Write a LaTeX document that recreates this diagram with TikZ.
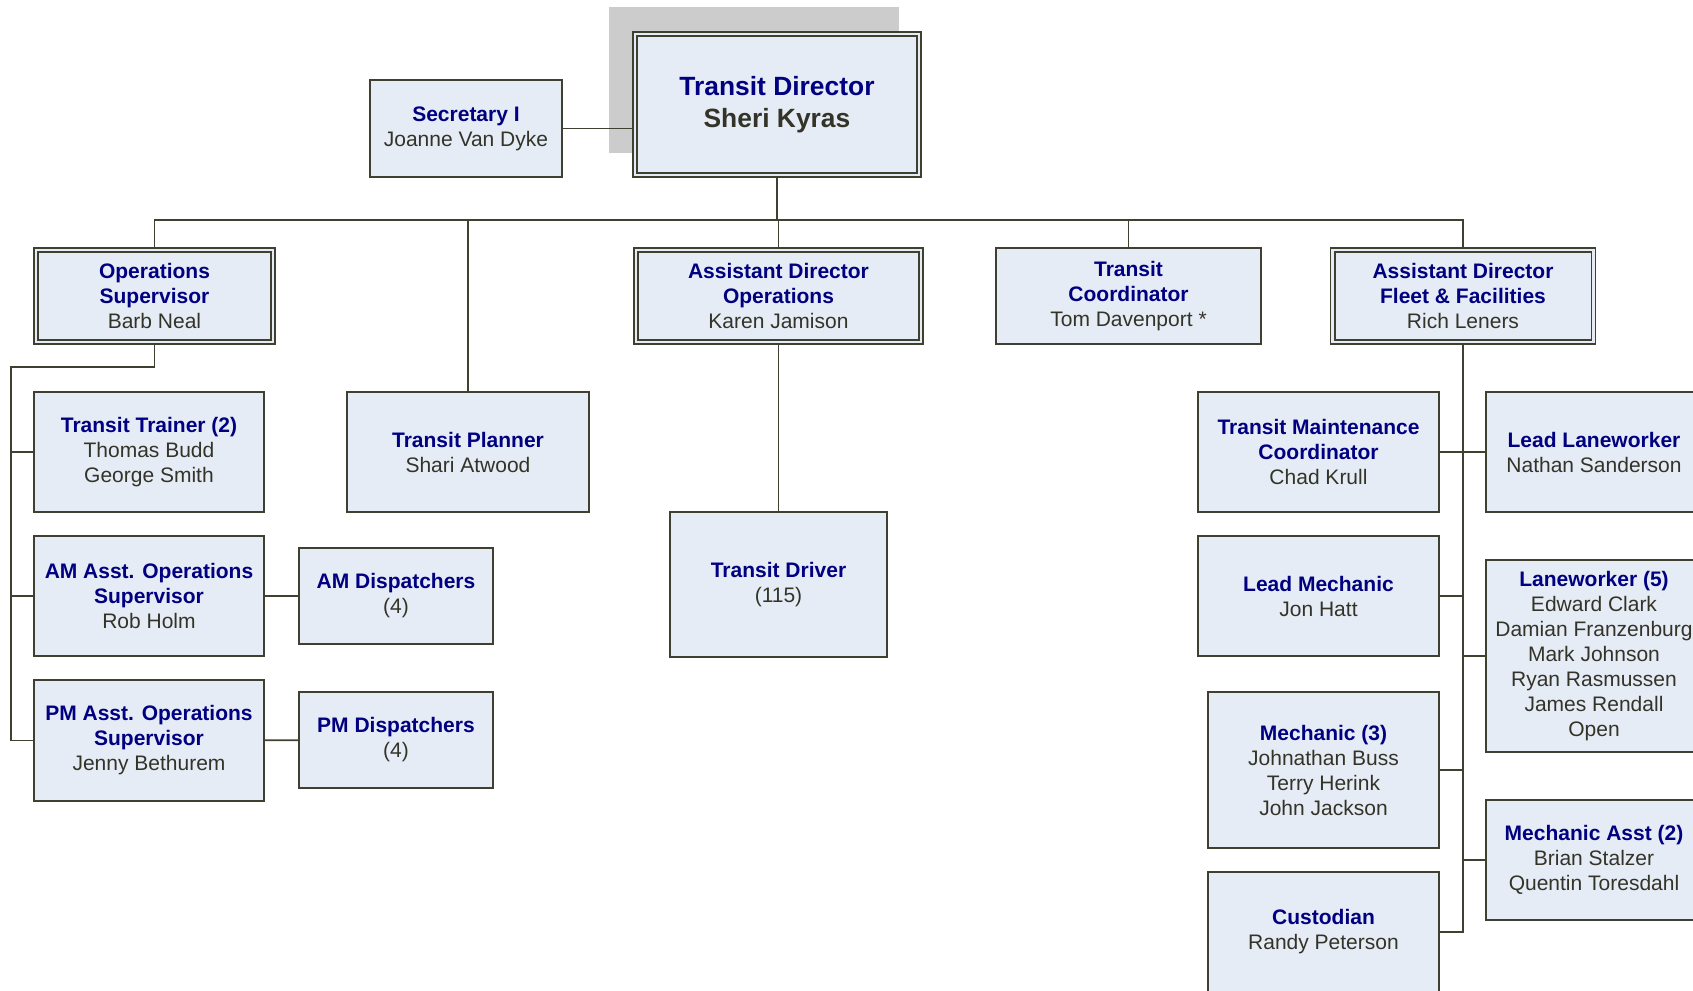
\documentclass[tikz,border=0pt]{standalone}
\usepackage{fontspec}
\setmainfont{Liberation Sans}
\definecolor{boxfill}{RGB}{230,236,246}
\definecolor{edge}{RGB}{64,64,48}
\definecolor{titleblue}{RGB}{0,0,128}
\definecolor{namecol}{RGB}{51,51,40}
\definecolor{shadowgray}{RGB}{204,204,204}
\newcommand{\ttl}[1]{{\color{titleblue}\bfseries #1}}

\begin{document}
\begin{tikzpicture}[x=0.75pt, y=-0.75pt,
    unit/.style={draw=edge, fill=boxfill, line width=1.4pt, align=center, inner sep=0pt,
      text=namecol, font=\fontsize{15.75}{18.75}\selectfont},
    sz/.style 2 args={minimum width=#1*0.75pt, minimum height=#2*0.75pt},
    wire/.style={draw=edge, line width=1.4pt}]

      \useasboundingbox (0,0) rectangle (1693,990);
      \fill [shadowgray] (609,7) rectangle (899,153);

      \node [unit, sz={288}{145}, font=\fontsize{19.8}{24}\selectfont] at (777,104.5) (dir) {\ttl{Transit Director}\\\textbf{Sheri Kyras}};
      \node [unit, sz={192}{97}] at (466,128.5) (sec) {\ttl{Secretary I}\\Joanne Van Dyke};

      \node [unit, sz={241}{96}] at (154.5,296) (opsup) {\ttl{Operations}\\\ttl{Supervisor}\\Barb Neal};
      \node [unit, sz={242}{120}] at (468,452) (planner) {\ttl{Transit Planner}\\Shari Atwood};
      \node [unit, sz={289}{96}] at (778.5,296) (adops) {\ttl{Assistant Director}\\\ttl{Operations}\\Karen Jamison};
      \node [unit, sz={265}{96}] at (1128.5,296) (coord) {\ttl{Transit}\\\ttl{Coordinator}\\Tom Davenport *};
      \node [unit, sz={265}{96}] at (1463,296) (adfleet) {\ttl{Assistant Director}\\\ttl{Fleet \& Facilities}\\Rich Leners};

      \node [unit, sz={230}{120}] at (149,452) (trainer) {\ttl{Transit Trainer (2)}\\Thomas Budd\\George Smith};
      \node [unit, sz={230}{120}] at (149,596) (amasst) {\ttl{AM Asst. Operations}\\\ttl{Supervisor}\\Rob Holm};
      \node [unit, sz={230}{121}] at (149,740.5) (pmasst) {\ttl{PM Asst. Operations}\\\ttl{Supervisor}\\Jenny Bethurem};
      \node [unit, sz={194}{96}] at (396,596) (amdisp) {\ttl{AM Dispatchers}\\(4)};
      \node [unit, sz={194}{96}] at (396,740) (pmdisp) {\ttl{PM Dispatchers}\\(4)};

      \node [unit, sz={217}{145}] at (778.5,584.5) (driver) {\ttl{Transit Driver}\\(115)};

      \node [unit, sz={241}{120}] at (1318.5,452) (tmc) {\ttl{Transit Maintenance}\\\ttl{Coordinator}\\Chad Krull};
      \node [unit, sz={241}{120}] at (1318.5,596) (mechlead) {\ttl{Lead Mechanic}\\Jon Hatt};
      \node [unit, sz={231}{156}] at (1323.5,770) (mech) {\ttl{Mechanic (3)}\\Johnathan Buss\\Terry Herink\\John Jackson};
      \node [unit, sz={231}{120}] at (1323.5,932) (cust) {\ttl{Custodian}\\Randy Peterson};
      \node [unit, sz={216}{120}] at (1594,452) (lanelead) {\ttl{Lead Laneworker}\\Nathan Sanderson};
      \node [unit, sz={216}{192}] at (1594,656) (lanes) {\ttl{Laneworker (5)}\\Edward Clark\\Damian Franzenburg\\Mark Johnson\\Ryan Rasmussen\\James Rendall\\Open};
      \node [unit, sz={216}{120}] at (1594,860) (mechasst) {\ttl{Mechanic Asst (2)}\\Brian Stalzer\\Quentin Toresdahl};

      % double frames
      \foreach \who in {dir,opsup,adops,adfleet}
        \draw [wire] ([shift={(5,-5)}]\who.south west) rectangle ([shift={(-5,5)}]\who.north east);

      \draw [wire] (sec.east) -- (sec.east -| dir.west);
      \foreach \who in {opsup,planner,adops,coord,adfleet}
        \draw [wire] (dir.south) -- ++(0,42) -| (\who.north);

      \coordinate (lspine) at (11,367);
      \foreach \who in {trainer,amasst,pmasst}
        \draw [wire] (opsup.south) |- (lspine) |- (\who.west);
      \draw [wire] (amasst) -- (amdisp);
      \draw [wire] (pmasst) -- (pmdisp);
      \draw [wire] (adops) -- (driver);

      \foreach \who in {tmc,mechlead,mech,cust}
        \draw [wire] (adfleet.south) |- (\who.east);
      \foreach \who in {lanelead,lanes,mechasst}
        \draw [wire] (adfleet.south) |- (\who.west);
    \end{tikzpicture}
\end{document}
